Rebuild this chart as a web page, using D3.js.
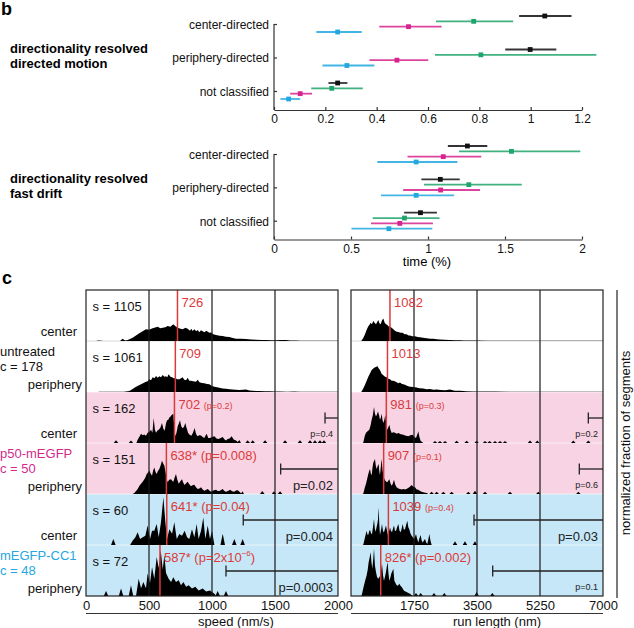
<!DOCTYPE html>
<html><head><meta charset="utf-8">
<script src="https://cdn.jsdelivr.net/npm/d3@7"></script>
<style>
body{margin:0;background:#fff}
svg{display:block;font-family:"Liberation Sans",Arial,Helvetica,sans-serif}
</style>
</head><body>
<svg id="chart" width="634" height="628"></svg>
<script>
// ================= PANEL b DATA =================
const bCategories = ["center-directed", "periphery-directed", "not classified"];
const bSeries = ["black", "green", "magenta", "cyan"];
// each entry: [mean, lower, upper] per category
const motionBlack   = [[1.055, 0.955, 1.159], [0.998, 0.901, 1.100], [0.248, 0.212, 0.286]];
const motionGreen   = [[0.778, 0.631, 0.932], [0.806, 0.627, 1.256], [0.225, 0.145, 0.346]];
const motionMagenta = [[0.524, 0.410, 0.653], [0.479, 0.372, 0.601], [0.102, 0.063, 0.148]];
const motionCyan    = [[0.248, 0.165, 0.342], [0.284, 0.189, 0.391], [0.057, 0.025, 0.102]];
const driftBlack    = [[1.256, 1.129, 1.385], [1.080, 0.957, 1.206], [0.951, 0.845, 1.058]];
const driftGreen    = [[1.542, 1.202, 1.989], [1.265, 0.974, 1.609], [0.847, 0.641, 1.075]];
const driftMagenta  = [[1.099, 0.867, 1.346], [1.082, 0.839, 1.338], [0.817, 0.630, 1.032]];
const driftCyan     = [[0.923, 0.671, 1.191], [0.923, 0.695, 1.170], [0.746, 0.503, 1.028]];
const motionTicks = [0, 0.2, 0.4, 0.6, 0.8, 1, 1.2];
const driftTicks = [0, 0.5, 1, 1.5, 2];

// ================= PANEL c DATA =================
const rowGroups = ["untreated", "untreated", "p50-mEGFP", "p50-mEGFP", "mEGFP-CC1", "mEGFP-CC1"];
const rowLocations = ["center", "periphery", "center", "periphery", "center", "periphery"];
const groupNames = ["untreated", "p50-mEGFP", "mEGFP-CC1"];
const groupCells = [178, 50, 48];
const segmentCounts = [1105, 1061, 162, 151, 60, 72];
const speedMedians = [726, 709, 702, 638, 641, 587];
const speedStars = [false, false, false, true, true, true];
const speedMedianP = [null, null, "(p=0.2)", "(p=0.008)", "(p=0.04)", "(p=2x10^-6)"];
const speedBracketStart = [null, null, 1897, 1545, 1248, 1111];
const speedBracketP = [null, null, "p=0.4", "p=0.02", "p=0.004", "p=0.0003"];
const runMedians = [1082, 1013, 981, 907, 1039, 826];
const runStars = [false, false, false, false, false, true];
const runMedianP = [null, null, "(p=0.3)", "(p=0.1)", "(p=0.4)", "(p=0.002)"];
const runBracketStart = [null, null, 6592, 6342, 3417, 3936];
const runBracketP = [null, null, "p=0.2", "p=0.6", "p=0.03", "p=0.1"];
const speedTicks = [0, 500, 1000, 1500, 2000];
const runTicks = [0, 1750, 3500, 5250, 7000];
const runTickLabels = [1750, 3500, 5250, 7000];

// histogram outlines: [value, % of segments]
const speedHist1 = [[80,0],[100,0.1],[140,0],[270,0],[291,0.45],[310,0.1],[331,0.2],[370,0.65],[423,1.5],[476,2.3],[500,2.2],[529,2.5],[569,2.8],[590,2.5],[609,2.6],[630,2.7],[648,2.95],[670,2.8],[693,3.3],[710,2.9],[728,2.6],[750,2.4],[767,2.3],[790,2.6],[807,2.4],[825,2.0],[835,2.4],[847,1.95],[860,2.3],[875,1.9],[886,2.15],[900,1.7],[912,2.1],[926,1.9],[940,1.7],[955,2.0],[966,1.8],[980,1.6],[992,1.65],[1010,1.3],[1032,1.2],[1060,1.05],[1085,1.0],[1110,0.85],[1138,0.8],[1165,0.6],[1191,0.45],[1230,0.42],[1270,0.4],[1310,0.3],[1349,0.26],[1390,0.22],[1429,0.2],[1470,0.15],[1508,0.14],[1550,0.2],[1587,0.18],[1620,0.1],[1667,0.1],[1700,0.05],[1746,0.06],[1800,0.05],[1850,0.06],[1900,0.04],[1960,0.05],[2000,0.04]];
const speedHist2 = [[100,0.05],[150,0.05],[300,0.05],[344,0.2],[370,0.6],[397,1.05],[437,1.5],[476,2.0],[490,2.1],[503,2.5],[516,2.3],[529,2.9],[543,2.7],[556,3.15],[569,2.8],[582,3.1],[595,2.9],[609,3.35],[622,3.0],[635,3.1],[645,2.9],[656,3.5],[670,3.0],[683,2.9],[696,2.7],[709,2.7],[725,2.5],[741,2.5],[754,2.7],[767,2.9],[780,2.4],[794,2.3],[807,2.8],[820,2.2],[833,2.2],[850,2.1],[873,2.0],[887,2.4],[900,1.9],[920,1.75],[939,1.7],[960,1.55],[979,1.5],[1000,1.2],[1019,1.05],[1040,0.95],[1058,0.85],[1085,0.7],[1111,0.65],[1140,0.55],[1164,0.5],[1190,0.45],[1217,0.4],[1245,0.45],[1270,0.5],[1297,0.3],[1323,0.25],[1350,0.2],[1376,0.2],[1420,0.14],[1455,0.13],[1500,0.1],[1535,0.12],[1600,0.06],[1650,0.08],[1700,0.04],[1800,0.05],[1900,0.04],[2000,0.04]];
const speedHist3 = [[400,0],[410,0.65],[437,1.8],[450,1.5],[463,1.65],[476,1.4],[489,2.0],[503,2.2],[516,2.6],[527,2.0],[537,4.9],[547,2.6],[556,2.0],[566,2.4],[577,2.6],[590,3.0],[603,3.9],[614,2.8],[624,2.4],[635,3.8],[643,4.45],[652,4.5],[662,5.0],[671,5.2],[680,5.5],[693,5.75],[701,3.0],[709,1.3],[718,2.0],[728,3.3],[737,3.8],[746,4.45],[756,3.3],[767,2.9],[778,3.2],[788,3.9],[798,3.0],[810,2.0],[822,1.6],[836,1.4],[849,2.0],[862,2.95],[873,1.8],[884,1.3],[898,1.5],[913,1.45],[926,1.2],[939,1.0],[948,1.4],[958,1.8],[970,1.0],[984,1.0],[1000,1.2],[1019,1.3],[1035,0.9],[1053,0.8],[1068,1.0],[1085,1.2],[1100,0.7],[1112,0.5],[1124,0.8],[1140,0.9],[1156,1.3],[1172,0.7],[1191,0.5],[1205,0.2],[1217,0.6],[1230,0]];
const speedHist4 = [[370,0],[384,0.2],[410,1.0],[424,1.6],[437,2.0],[450,2.4],[463,2.9],[472,3.3],[482,3.9],[492,4.2],[503,4.6],[513,4.0],[524,3.6],[533,4.6],[542,5.2],[552,4.3],[561,3.9],[571,4.5],[582,4.9],[592,5.6],[603,6.5],[613,6.0],[622,5.55],[630,4.5],[640,3.0],[648,2.3],[660,2.8],[675,2.9],[684,2.6],[693,2.4],[703,3.2],[714,3.9],[725,2.8],[736,2.0],[749,2.5],[762,2.9],[772,2.2],[783,1.75],[795,2.1],[807,2.4],[820,1.9],[833,1.5],[846,1.7],[860,1.8],[873,1.3],[886,1.0],[900,1.1],[913,1.3],[926,0.9],[939,0.65],[952,0.8],[966,1.0],[979,0.7],[992,0.45],[1010,0.7],[1032,0.85],[1045,0.6],[1058,0.6],[1072,0.8],[1085,1.0],[1098,0.6],[1111,0.45],[1127,0.6],[1143,0.85],[1160,0.55],[1177,0.45],[1190,0.7],[1204,0.75],[1220,0.4],[1232,0.1],[1241,0.55],[1254,0]];
const speedHist5 = [[350,0],[370,0.85],[392,1.5],[410,2.5],[429,1.2],[450,1.5],[471,1.8],[489,3.8],[508,1.2],[524,2.8],[542,2.8],[561,4.1],[577,1.5],[595,4.45],[614,9.35],[630,4.45],[643,1.2],[662,3.1],[683,2.2],[701,4.45],[720,1.2],[741,2.15],[762,1.8],[783,2.8],[802,1.5],[820,1.2],[841,3.1],[860,1.5],[878,4.1],[894,1.2],[913,2.8],[931,5.4],[947,1.2],[966,3.8],[984,1.2],[1000,2.8],[1019,0]];
const speedHist6 = [[397,0],[418,3.4],[437,1.5],[455,2.75],[476,1.5],[489,4.4],[508,2.55],[524,5.7],[542,3.4],[561,7.65],[577,5.5],[593,8.95],[609,5.2],[622,8.0],[635,4.5],[656,3.4],[675,2.75],[693,3.7],[714,2.75],[736,3.1],[754,2.1],[773,2.75],[794,1.8],[815,2.1],[841,1.45],[868,1.8],[894,1.1],[926,1.45],[953,0.9],[984,1.1],[1019,0.45],[1032,0]];
// isolated single-bin spikes: [value, %]
const speedSingles1 = [];
const speedSingles2 = [];
const speedSingles3 = [[238,0.55],[357,0.5],[1283,0.55],[1323,0.55],[1421,0.55],[1580,0.55],[1698,0.55],[1778,0.55],[1817,0.55],[1857,0.55],[1889,0.55]];
const speedSingles4 = [[1399,0.6],[1492,0.55],[1540,0.55]];
const speedSingles5 = [[217,1.2],[1085,2.2],[1177,1.2],[1243,1.2]];
const speedSingles6 = [[159,1.0],[278,1.45],[357,2.1],[1045,1.0],[1111,1.0]];

const runHist1 = [[270,0],[296,0.1],[340,0.6],[389,1.3],[435,2.2],[481,2.9],[515,3.2],[546,3.6],[580,3.3],[620,3.9],[655,3.6],[694,3.3],[725,3.7],[759,4.1],[790,3.5],[824,3.3],[860,4.0],[898,4.4],[935,3.6],[972,3.3],[1005,3.2],[1037,2.9],[1085,2.8],[1130,2.6],[1175,2.3],[1222,2.0],[1270,1.8],[1315,1.75],[1375,1.6],[1435,1.6],[1490,1.3],[1546,1.3],[1600,1.1],[1639,1.1],[1700,0.95],[1778,0.95],[1850,0.8],[1916,0.75],[2000,0.65],[2102,0.55],[2200,0.45],[2287,0.45],[2380,0.35],[2472,0.3],[2600,0.25],[2750,0.2],[2900,0.17],[3028,0.15],[3150,0.12],[3305,0.1],[3500,0.08],[3800,0.06],[4100,0.07],[4500,0.05],[5000,0.06],[5500,0.05],[6000,0.05],[6500,0.05],[7000,0.05]];
const runHist2 = [[270,0],[296,0.1],[340,0.7],[389,1.4],[435,2.2],[481,3.0],[530,3.7],[574,4.3],[620,4.6],[666,4.85],[700,4.9],[731,5.1],[770,4.6],[805,4.3],[850,3.6],[898,3.3],[945,3.0],[990,2.9],[1035,2.6],[1083,2.5],[1130,2.2],[1176,2.2],[1245,2.0],[1315,1.7],[1360,1.85],[1407,1.6],[1450,1.5],[1500,1.4],[1570,1.2],[1639,1.05],[1730,1.0],[1824,0.9],[1900,0.75],[2009,0.7],[2100,0.55],[2194,0.6],[2290,0.45],[2380,0.5],[2500,0.4],[2620,0.35],[2750,0.5],[2880,0.25],[3028,0.25],[3200,0.15],[3400,0.12],[3700,0.1],[4000,0.08],[4400,0.06],[4800,0.07],[5300,0.05],[5800,0.06],[6300,0.05],[7000,0.05]];
const runHist3 = [[320,0],[343,0.1],[380,1.3],[417,2.0],[460,2.3],[509,2.6],[545,3.5],[574,4.55],[605,5.4],[639,7.05],[665,5.8],[694,5.2],[720,5.6],[750,6.2],[778,5.5],[805,4.55],[830,5.0],[852,5.75],[875,4.5],[898,3.9],[925,4.5],[953,5.55],[980,3.6],[1009,2.6],[1037,3.1],[1065,3.6],[1095,2.6],[1130,1.95],[1175,2.1],[1222,2.0],[1270,1.8],[1315,1.95],[1385,1.7],[1454,1.6],[1525,1.4],[1593,1.3],[1650,1.5],[1713,1.6],[1760,1.2],[1805,1.0],[1840,1.6],[1870,2.3],[1900,1.2],[1935,0.4],[1975,0.2],[2009,0]];
const runHist4 = [[320,0],[343,0.1],[380,1.2],[417,2.0],[450,3.0],[481,3.9],[505,4.5],[528,4.9],[550,4.0],[574,3.7],[598,5.2],[620,6.2],[645,6.5],[666,6.85],[690,5.5],[713,4.9],[740,5.5],[768,5.9],[785,4.5],[805,3.7],[830,5.5],[852,6.85],[875,4.8],[898,3.6],[925,3.0],[953,2.6],[980,2.4],[1009,2.3],[1037,2.6],[1065,2.9],[1095,2.1],[1130,1.6],[1160,2.0],[1194,2.8],[1230,1.8],[1268,1.3],[1315,1.1],[1361,1.0],[1410,0.9],[1454,1.0],[1510,0.9],[1565,1.1],[1620,1.3],[1685,1.75],[1730,1.4],[1778,1.3],[1825,0.9],[1870,0.85],[1920,0.6],[1963,0.45],[2030,0.3],[2102,0.2],[2150,0]];
const runHist5 = [[320,0],[343,0.1],[389,1.5],[435,2.8],[458,2.0],[481,2.0],[505,2.7],[528,3.0],[555,2.3],[583,2.1],[610,3.5],[639,5.1],[662,3.2],[685,2.6],[710,3.5],[731,4.1],[750,5.0],[768,7.4],[787,4.0],[805,1.95],[835,3.0],[861,4.1],[890,2.7],[916,2.5],[945,3.2],[972,3.8],[1000,2.8],[1028,1.8],[1055,2.6],[1083,3.45],[1110,2.8],[1139,2.5],[1165,3.2],[1194,3.8],[1222,2.8],[1250,2.75],[1280,3.5],[1315,4.1],[1347,2.8],[1380,2.5],[1410,3.3],[1435,4.1],[1468,3.0],[1500,3.1],[1530,3.9],[1565,4.75],[1592,3.5],[1620,3.1],[1650,2.3],[1685,1.8],[1718,1.5],[1750,1.2],[1778,1.6],[1805,2.15],[1838,1.2],[1870,0.5],[1900,1.3],[1935,1.95],[1963,0.9],[1991,0.5],[2025,0.9],[2056,1.2],[2090,0.5],[2120,0.2],[2150,1.2],[2176,2.15],[2210,0.8],[2240,0]];
const runHist6 = [[270,0],[296,0.1],[330,1.2],[361,2.1],[400,3.2],[435,4.05],[465,5.2],[491,6.65],[520,7.6],[546,8.6],[570,6.5],[592,5.35],[615,7.0],[639,9.25],[665,6.0],[694,4.7],[720,3.8],[750,3.4],[778,3.6],[805,3.9],[835,5.0],[861,6.3],[890,4.0],[916,3.0],[945,3.8],[972,4.7],[995,5.8],[1018,6.65],[1040,4.5],[1065,3.0],[1092,3.6],[1120,4.4],[1150,4.9],[1176,5.35],[1205,3.0],[1231,2.6],[1260,2.2],[1287,2.0],[1315,2.1],[1342,2.4],[1375,2.0],[1407,1.75],[1440,1.4],[1472,1.05],[1510,0.9],[1546,0.8],[1590,0.6],[1639,0.45],[1680,0.2],[1713,0]];
const runSingles1 = [];
const runSingles2 = [];
const runSingles3 = [[2333,0.4],[2470,0.4],[2611,0.4],[2935,0.45],[3213,0.45],[3490,0.45],[3722,0.4],[3850,0.4],[4000,0.4],[4140,0.4],[4278,0.4],[4972,0.5],[5175,0.5],[6175,0.5],[6592,0.5]];
const runSingles4 = [[2240,0.45],[2380,0.45],[2565,0.45],[2796,0.45],[3259,0.45],[3444,0.65],[3722,0.45],[4416,0.45],[5203,0.45],[6314,0.45]];
const runSingles5 = [[2889,0.75],[3166,0.75],[3444,0.75]];
const runSingles6 = [[1806,0.6],[1935,0.6],[2305,0.6],[2592,0.6],[3490,0.8],[3926,0.6]];

// ================= DRAWING =================
const svg = d3.select("#chart");
const FONT = '"Liberation Sans",Arial,Helvetica,sans-serif';
const seriesColors = {black: "#111111", green: "#1fa46b", magenta: "#d6238d", cyan: "#22a8df"};
const RED = "#dc3a3a";

// panel letters
svg.append("text").attr("x", 1).attr("y", 15).attr("font-size", 18).attr("font-weight", "bold").text("b");
svg.append("text").attr("x", 2).attr("y", 284).attr("font-size", 18).attr("font-weight", "bold").text("c");

function drawB(cfg) {
  const g = svg.append("g");
  const x = d3.scaleLinear().domain(cfg.domain).range([274, 582]);
  const y = d3.scalePoint().domain(bCategories).range(cfg.yRange);
  const off = d3.scalePoint().domain(bSeries).range([-8, 8]);

  cfg.title.forEach((line, i) => {
    g.append("text").attr("x", 10).attr("y", cfg.titleY + i * 15).attr("font-size", 13)
      .attr("font-weight", "bold").text(line);
  });

  // x axis
  const xa = g.append("g").attr("transform", `translate(0,${cfg.base})`)
    .call(d3.axisBottom(x).tickValues(cfg.ticks).tickSize(-3).tickSizeOuter(0).tickPadding(4.5)
      .tickFormat(d3.format("~g")));
  xa.attr("font-size", 12).attr("font-family", FONT);
  xa.selectAll("path,line").attr("stroke", "#333").attr("stroke-width", 1.2);
  xa.selectAll("text").attr("fill", "#111");
  if (cfg.xlabel) {
    g.append("text").attr("x", 427).attr("y", cfg.base + 26.5).attr("text-anchor", "middle")
      .attr("font-size", 13).text(cfg.xlabel);
  }
  // y axis
  const ya = g.append("g").attr("transform", "translate(274,0)")
    .call(d3.axisLeft(y).tickSize(-3).tickSizeOuter(0).tickPadding(5));
  ya.attr("font-size", 12).attr("font-family", FONT);
  ya.select(".domain").remove();
  ya.selectAll("line").attr("stroke", "#333").attr("stroke-width", 1.2);
  ya.selectAll("text").attr("fill", "#111").attr("dy", "0.36em");
  g.append("line").attr("x1", 274).attr("x2", 274).attr("y1", cfg.yRange[0]).attr("y2", cfg.base)
    .attr("stroke", "#333").attr("stroke-width", 1.2);

  // error bars
  bSeries.forEach((s, si) => {
    const data = cfg.data[si];
    data.forEach((d, ci) => {
      const yy = y(bCategories[ci]) + off(s);
      g.append("line").attr("x1", x(d[1])).attr("x2", x(d[2])).attr("y1", yy).attr("y2", yy)
        .attr("stroke", seriesColors[s]).attr("stroke-width", 1.8).attr("stroke-opacity", 0.85);
      g.append("rect").attr("x", x(d[0]) - 2.4).attr("y", yy - 2.4).attr("width", 4.8).attr("height", 4.8)
        .attr("fill", seriesColors[s]);
    });
  });
}

drawB({domain: [0, 1.2], ticks: motionTicks, yRange: [24, 91], base: 110, titleY: 53,
  title: ["directionality resolved", "directed motion"],
  data: [motionBlack, motionGreen, motionMagenta, motionCyan]});
drawB({domain: [0, 2], ticks: driftTicks, yRange: [154, 220.7], base: 239.5, titleY: 183,
  title: ["directionality resolved", "fast drift"], xlabel: "time (%)",
  data: [driftBlack, driftGreen, driftMagenta, driftCyan]});

// ---------------- panel c ----------------
const rowIds = d3.range(segmentCounts.length);
const rowY = d3.scaleBand().domain(rowIds).range([290, 596]);
const rowH = rowY.bandwidth();
const hScale = d3.scaleLinear().domain([0, 10]).range([0, rowH]);
const groupBg = {"untreated": "#ffffff", "p50-mEGFP": "#f8d3e3", "mEGFP-CC1": "#c6e7f7"};
const groupColor = {"untreated": "#111111", "p50-mEGFP": "#d42a8e", "mEGFP-CC1": "#25a7df"};

const speedHists = [speedHist1, speedHist2, speedHist3, speedHist4, speedHist5, speedHist6];
const speedSingles = [speedSingles1, speedSingles2, speedSingles3, speedSingles4, speedSingles5, speedSingles6];
const runHists = [runHist1, runHist2, runHist3, runHist4, runHist5, runHist6];
const runSingles = [runSingles1, runSingles2, runSingles3, runSingles4, runSingles5, runSingles6];

const smallSpeedMedP = [false, false, true, false, false, false];
const smallRunMedP = [false, false, true, true, true, false];
const smallSpeedBrP = [false, false, true, false, false, false];
const smallRunBrP = [false, false, true, true, false, true];

function addPText(sel, str, size) {
  const m = str.match(/^(.*)\^(-?\d+)(.*)$/);
  if (m) {
    sel.append("tspan").attr("font-size", size).text(m[1]);
    sel.append("tspan").attr("font-size", size * 0.62).attr("dy", -size * 0.42).text(m[2].replace("-", "\u2212"));
    sel.append("tspan").attr("font-size", size).attr("dy", size * 0.42).text(m[3]);
  } else sel.append("tspan").attr("font-size", size).text(str);
}

function drawHistChart(cfg) {
  const g = svg.append("g");
  const x = d3.scaleLinear().domain(cfg.domain).range(cfg.range);
  const clipId = "clip" + cfg.id;
  svg.append("clipPath").attr("id", clipId).append("rect")
    .attr("x", cfg.range[0]).attr("y", 290).attr("width", cfg.range[1] - cfg.range[0]).attr("height", 306);

  // backgrounds
  rowIds.forEach(i => {
    g.append("rect").attr("x", cfg.range[0]).attr("y", rowY(i)).attr("width", cfg.range[1] - cfg.range[0])
      .attr("height", rowH).attr("fill", groupBg[rowGroups[i]]);
  });
  // separators
  rowIds.slice(1).forEach(i => {
    g.append("line").attr("x1", cfg.range[0]).attr("x2", cfg.range[1]).attr("y1", rowY(i)).attr("y2", rowY(i))
      .attr("stroke", rowGroups[i] === "untreated" ? "#d9d9d9" : "#ffffff")
      .attr("stroke-opacity", rowGroups[i] === "untreated" ? 1 : 0.6).attr("stroke-width", 1);
  });

  const hg = g.append("g").attr("clip-path", `url(#${clipId})`);
  rowIds.forEach(i => {
    const bottom = rowY(i) + rowH;
    const area = d3.area().x(d => x(d[0])).y0(bottom).y1(d => bottom - hScale(d[1]));
    hg.append("path").datum(cfg.hists[i]).attr("d", area).attr("fill", "#000");
    cfg.singles[i].forEach(s => {
      hg.append("path").datum([[s[0] - cfg.hw, 0], [s[0], s[1]], [s[0] + cfg.hw, 0]])
        .attr("d", area).attr("fill", "#000");
    });
  });

  // grid lines
  cfg.ticks.slice(1, -1).forEach(t => {
    g.append("line").attr("x1", x(t)).attr("x2", x(t)).attr("y1", 290).attr("y2", 596)
      .attr("stroke", "#1a1a1a").attr("stroke-width", 1.2);
  });

  // medians
  rowIds.forEach(i => {
    const top = rowY(i);
    const mx = x(cfg.medians[i]);
    g.append("line").attr("x1", mx).attr("x2", mx).attr("y1", top).attr("y2", top + rowH)
      .attr("stroke", RED).attr("stroke-width", 1.5);
    const tx = g.append("text").attr("x", mx + 4).attr("y", top + 16.5).attr("fill", RED).attr("font-size", 13);
    tx.append("tspan").text(cfg.medians[i] + (cfg.stars[i] ? "*" : ""));
    if (cfg.medP[i]) {
      tx.append("tspan").text(" ").attr("font-size", 13);
      addPText(tx, cfg.medP[i], cfg.smallMedP[i] ? 9 : 13);
    }
    // brackets
    if (cfg.brStart[i] != null) {
      const by = top + 26;
      const bx = x(cfg.brStart[i]);
      g.append("line").attr("x1", bx).attr("x2", cfg.range[1]).attr("y1", by).attr("y2", by)
        .attr("stroke", "#222").attr("stroke-width", 1.3);
      g.append("line").attr("x1", bx).attr("x2", bx).attr("y1", by - 5.5).attr("y2", by + 5.5)
        .attr("stroke", "#222").attr("stroke-width", 1.3);
      const small = cfg.smallBrP[i];
      g.append("text").attr("x", cfg.range[1] - 5).attr("y", top + rowH - (small ? 6 : 4.5))
        .attr("text-anchor", "end").attr("font-size", small ? 9 : 13).attr("fill", "#222").text(cfg.brP[i]);
    }
  });

  // frame
  g.append("rect").attr("x", cfg.range[0]).attr("y", 290).attr("width", cfg.range[1] - cfg.range[0])
    .attr("height", 306).attr("fill", "none").attr("stroke", "#222").attr("stroke-width", 1.2);

  // axis labels
  const ax = g.append("g").attr("transform", "translate(0,596)")
    .call(d3.axisBottom(x).tickValues(cfg.labelTicks).tickSize(0).tickPadding(5).tickFormat(d3.format("d")));
  ax.select(".domain").remove();
  ax.attr("font-size", 13).attr("font-family", FONT);
  ax.selectAll("text").attr("fill", "#111");
  g.append("line").attr("x1", cfg.range[0]).attr("x2", cfg.range[1]).attr("y1", 613.5).attr("y2", 613.5)
    .attr("stroke", "#333").attr("stroke-width", 1.2);
  g.append("text").attr("x", cfg.labelX).attr("y", 626).attr("text-anchor", "middle")
    .attr("font-size", 13).attr("fill", "#111").text(cfg.xlabel);
}

drawHistChart({id: "speed", domain: [0, 2000], range: [86, 338], hists: speedHists, singles: speedSingles,
  hw: 18, ticks: speedTicks, labelTicks: speedTicks, medians: speedMedians, stars: speedStars,
  medP: speedMedianP, smallMedP: smallSpeedMedP, brStart: speedBracketStart, brP: speedBracketP,
  smallBrP: smallSpeedBrP, xlabel: "speed (nm/s)", labelX: 236});
drawHistChart({id: "run", domain: [0, 7000], range: [351, 603], hists: runHists, singles: runSingles,
  hw: 63, ticks: runTicks, labelTicks: runTickLabels, medians: runMedians, stars: runStars,
  medP: runMedianP, smallMedP: smallRunMedP, brStart: runBracketStart, brP: runBracketP,
  smallBrP: smallRunBrP, xlabel: "run length (nm)", labelX: 497});

// row labels
rowIds.forEach(i => {
  const top = rowY(i);
  svg.append("text").attr("x", 92.5).attr("y", top + 20.5).attr("font-size", 13).attr("fill", "#111")
    .text("s = " + segmentCounts[i]);
  const isCenter = rowLocations[i] === "center";
  svg.append("text").attr("x", isCenter ? 77 : 82).attr("y", top + (isCenter ? 45.5 : 47.5))
    .attr("text-anchor", "end").attr("font-size", 13).attr("fill", "#111").text(rowLocations[i]);
});
groupNames.forEach((gname, gi) => {
  const pRow = rowIds.find(i => rowGroups[i] === gname && rowLocations[i] === "periphery");
  const top = rowY(pRow);
  svg.append("text").attr("x", 0).attr("y", top + 14.5).attr("font-size", 13).attr("fill", groupColor[gname]).text(gname);
  svg.append("text").attr("x", 0).attr("y", top + 30).attr("font-size", 13).attr("fill", groupColor[gname])
    .text("c = " + groupCells[gi]);
});

// right side label
svg.append("line").attr("x1", 617).attr("x2", 617).attr("y1", 290).attr("y2", 598)
  .attr("stroke", "#222").attr("stroke-width", 1.2);
svg.append("text").attr("transform", "translate(630,443) rotate(-90)").attr("text-anchor", "middle")
  .attr("font-size", 13).attr("fill", "#111").text("normalized fraction of segments");
</script>
</body></html>
